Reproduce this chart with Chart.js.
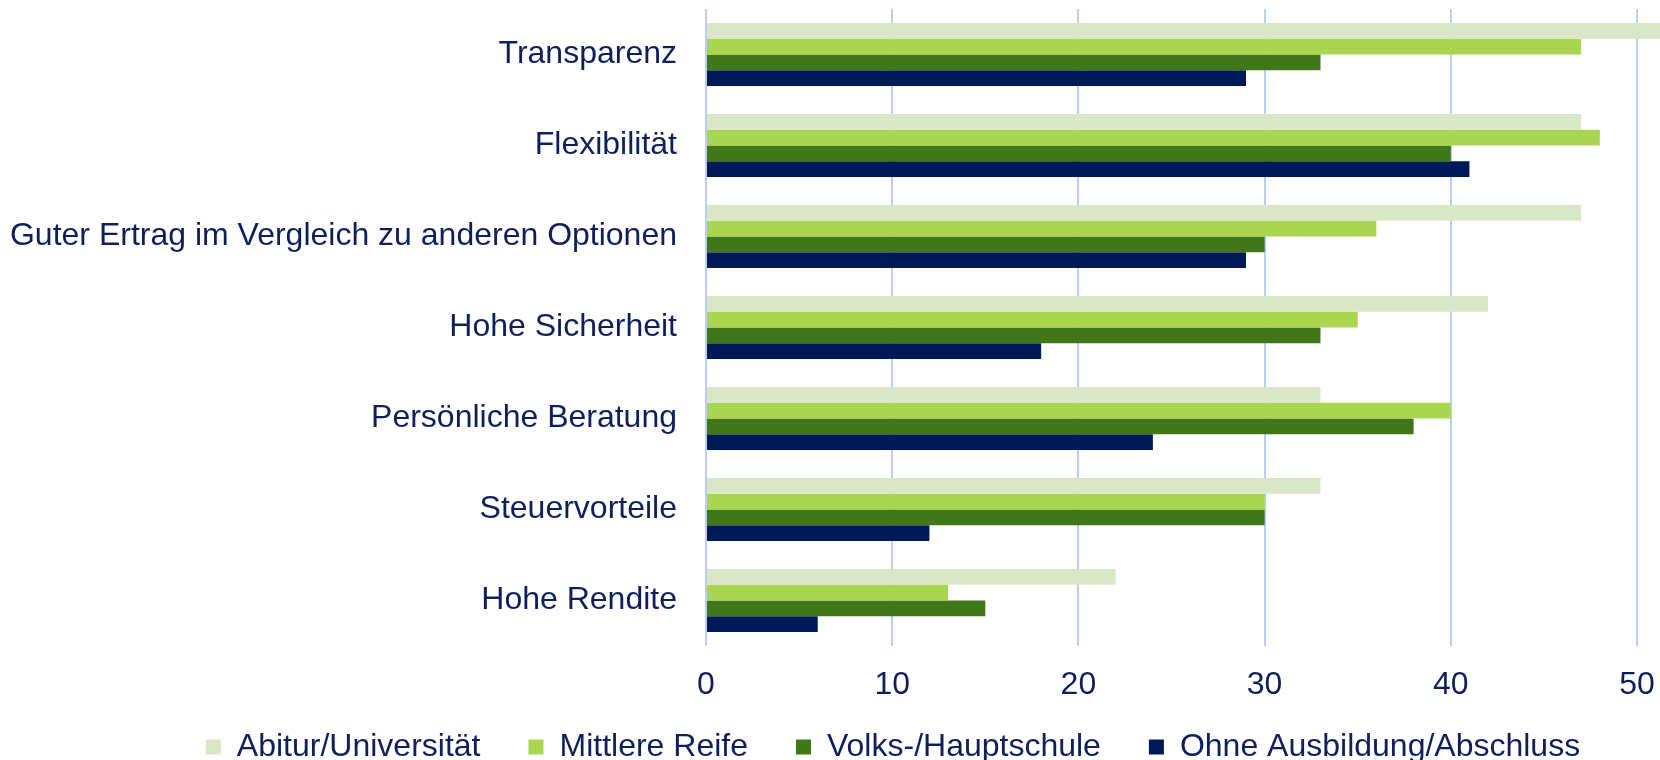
<!DOCTYPE html>
<html>
<head>
<meta charset="utf-8">
<script src="https://cdn.jsdelivr.net/npm/chart.js@4.4.1/dist/chart.umd.min.js"></script>
<style>
  html, body { margin: 0; padding: 0; background: #fff; overflow: hidden; }
  #wrap { width: 1820px; height: 760px; }
</style>
</head>
<body>
<div id="wrap"><canvas id="motiveChart" width="1820" height="760"></canvas></div>
<script>
const categories = ["Transparenz", "Flexibilität", "Guter Ertrag im Vergleich zu anderen Optionen", "Hohe Sicherheit", "Persönliche Beratung", "Steuervorteile", "Hohe Rendite"];
const seriesNames = ["Abitur/Universität", "Mittlere Reife", "Volks-/Hauptschule", "Ohne Ausbildung/Abschluss"];
const abitur = [53, 47, 47, 42, 33, 33, 22];
const mittlereReife = [47, 48, 36, 35, 40, 30, 13];
const hauptschule = [33, 40, 30, 33, 38, 30, 15];
const ohneAbschluss = [29, 41, 29, 18, 24, 12, 6];
const xTicks = [0, 10, 20, 30, 40, 50];

const barColors = ["#d9e7c6", "#a9d64e", "#407718", "#001a57"];
const textColor = "#0f1f5c";

Chart.defaults.font.family = "'Liberation Sans', Arial, sans-serif";
Chart.defaults.color = textColor;

// legend uses a big item padding: keep its box small and pull its top up under the ticks
const legendPlace = {
  id: "legendPlace",
  beforeLayout(chart) {
    const lg = chart.legend;
    if (lg && !lg._fixed) {
      const fit = lg.fit.bind(lg);
      lg.fit = function () { fit(); this.height = 54; };
      lg._fixed = true;
    }
  },
  afterLayout(chart) {
    const lg = chart.legend;
    if (lg) { lg.top -= 23; }
  }
};

const values = [abitur, mittlereReife, hauptschule, ohneAbschluss];

new Chart("motiveChart", {
  type: "bar",
  data: {
    labels: categories,
    datasets: seriesNames.map((name, i) => ({
      label: name,
      data: values[i],
      backgroundColor: barColors[i],
      borderWidth: 0,
      categoryPercentage: 0.69,
      barPercentage: 1.0
    }))
  },
  options: {
    indexAxis: "y",
    responsive: false,
    animation: false,
    layout: { padding: { top: 9, right: 34, left: 0, bottom: 0 } },
    plugins: {
      legend: {
        position: "bottom",
        labels: {
          boxWidth: 15,
          boxHeight: 15,
          padding: 48,
          font: { size: 32 },
          color: textColor
        }
      },
      tooltip: { enabled: false }
    },
    scales: {
      x: {
        min: 0,
        max: 58,
        afterBuildTicks: (scale) => { scale.ticks = xTicks.map(v => ({ value: v })); },
        afterFit: (scale) => { scale.height = 60; },
        grid: { color: "#b9cdf8", lineWidth: 2, drawTicks: false },
        border: { display: false },
        ticks: { padding: 20, font: { size: 32 }, color: textColor }
      },
      y: {
        afterFit: (scale) => {
          scale.width = 706;
          scale.paddingTop = 0;
          scale.paddingBottom = 0;
        },
        grid: { display: false, drawTicks: false },
        border: { display: false },
        ticks: { padding: 29, font: { size: 32 }, color: textColor }
      }
    }
  },
  plugins: [legendPlace]
});
</script>
</body>
</html>
